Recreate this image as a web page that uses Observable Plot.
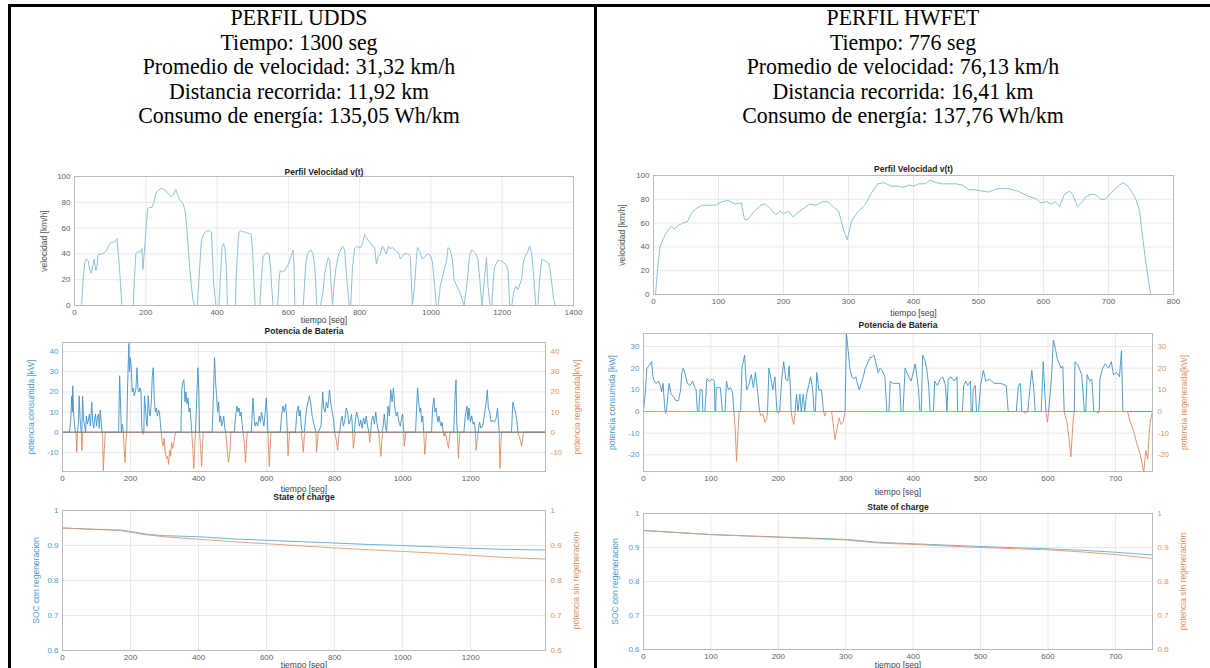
<!DOCTYPE html>
<html>
<head>
<meta charset="utf-8">
<script src="https://cdn.jsdelivr.net/npm/d3@7"></script>
<script src="https://cdn.jsdelivr.net/npm/@observablehq/plot@0.6"></script>
<style>
  body { margin: 0; background: #fff; }
  #page { position: relative; width: 1210px; height: 668px; overflow: hidden; background: #fff; }
  .rule { position: absolute; background: #000; }
  .head { position: absolute; width: 600px; text-align: center; white-space: nowrap;
          font-family: "Liberation Serif", "Times New Roman", serif; font-size: 23.5px; color: #000;
          line-height: 24px; transform: translateY(-50%) scaleX(0.93); transform-origin: 50% 50%; }
  svg { position: absolute; }
</style>
</head>
<body>
<div id="page"></div>
<script>
// ---- Summary text for each drive cycle ----
const uddsHeader = ["PERFIL UDDS", "Tiempo: 1300 seg", "Promedio de velocidad: 31,32 km/h",
                    "Distancia recorrida: 11,92 km", "Consumo de energía: 135,05 Wh/km"];
const hwfetHeader = ["PERFIL HWFET", "Tiempo: 776 seg", "Promedio de velocidad: 76,13 km/h",
                     "Distancia recorrida: 16,41 km", "Consumo de energía: 137,76 Wh/km"];

// ---- UDDS speed profile (s, km/h) ----
const uddsVt = [0,20,24,29,33,38,43,47,51,55,60,63,66,72,77,83,88,94,99,105,110,116,119,126,133,165,168,172,177,183,189,192,197,205,211,217,223,228,234,239,245,250,256,261,267,272,278,284,289,295,301,306,311,315,319,323,328,332,337,345,350,356,362,367,373,379,384,387,390,393,397,405,410,414,418,422,426,429,451,455,459,462,467,473,479,485,490,496,500,503,507,520,524,529,535,541,546,550,553,557,570,574,577,579,584,590,596,602,607,613,616,618,642,646,650,654,658,664,669,674,677,680,690,697,702,708,712,716,719,724,728,734,741,747,752,758,764,771,775,780,786,792,798,803,808,814,819,825,831,836,842,847,852,858,864,870,875,881,886,892,898,903,909,914,920,925,931,937,942,948,954,959,962,968,976,984,992,998,1004,1009,1015,1021,1026,1044,1048,1054,1060,1065,1071,1076,1082,1087,1093,1098,1104,1107,1110,1115,1121,1126,1132,1137,1143,1150,1156,1160,1166,1171,1175,1179,1188,1193,1199,1204,1210,1216,1221,1227,1232,1238,1244,1254,1260,1265,1268,1271,1277,1283,1289,1294,1300,1305,1311,1330,1333,1338,1344,1349,1355,1361,1367,1370];
const uddsV  = [0,0,20,33,36,35,28,25,30,36,27,30,39,40,40,41,42,45,48,49,49,50,52,30,0,0,20,40,42,41,44,28,45,75,76,76,80,87,89,90,91,90,89,87,86,84,86,90,86,82,80,78,72,60,45,30,15,5,0,0,25,50,55,57,58,58,57,40,20,10,0,0,25,45,48,45,30,0,0,30,50,57,58,57,57,56,56,55,40,20,0,0,20,38,40,41,40,30,15,0,0,20,27,27,26,27,30,33,38,43,30,0,0,20,35,40,42,43,40,30,15,0,0,10,25,33,37,35,20,0,15,30,40,43,46,43,20,0,0,30,44,46,45,45,48,55,53,50,48,46,45,32,38,40,46,43,40,46,44,45,43,42,41,36,38,40,40,40,38,0,15,35,45,42,36,38,40,39,34,20,0,0,15,35,45,43,36,20,16,13,10,5,0,10,25,35,40,43,42,40,36,20,0,20,37,15,0,0,20,30,35,35,34,33,32,28,0,0,10,15,12,20,35,38,40,41,46,40,20,0,0,20,36,33,30,20,5,0,0];

// ---- HWFET speed profile (s, km/h) ----
const hwfetVt = [0,3,7,10,15,20,25,28,32,38,45,52,58,65,75,85,95,105,115,125,135,140,145,155,165,172,180,188,195,200,208,215,220,230,240,250,260,268,278,285,292,298,305,315,325,335,345,355,365,375,385,393,400,408,418,425,435,445,455,465,475,485,495,505,515,530,545,560,575,590,595,605,612,618,625,632,640,645,652,660,665,672,680,688,695,705,715,722,728,735,742,748,752,758,762,765];
const hwfetV  = [0,0,25,40,47,52,56,57,55,58,60,61,68,72,75,75,75,78,79,76,77,63,63,70,75,76,72,67,70,68,70,65,68,72,76,75,78,78,73,70,55,46,62,70,75,85,93,94,91,91,90,92,91,93,93,96,94,93,93,93,92,88,88,87,86,89,89,87,83,80,77,78,76,78,74,84,87,84,74,78,82,84,84,80,80,86,91,94,92,87,80,70,50,25,10,0];

// ---- UDDS battery power (s, kW): positive = consumed, negative = regenerated ----
const uddsPt = [0,20,24,27,29,30,33,36,38,40,42,44,47,49,52,55,57,59,62,65,68,70,73,76,79,82,86,89,92,95,97,100,103,106,108,111,114,116,118,120,123,126,165,168,171,173,176,179,181,184,187,189,191,195,197,199,202,205,208,211,214,216,219,222,225,228,231,233,235,237,239,241,244,247,249,252,255,258,261,264,267,270,273,276,279,282,285,288,290,293,296,299,302,306,309,312,315,318,321,324,327,330,333,348,351,354,357,360,363,366,369,372,375,378,380,383,386,389,391,395,398,401,403,406,409,412,414,440,444,447,450,453,456,459,462,465,468,471,474,477,480,484,488,492,495,505,509,513,516,519,522,525,528,531,535,538,541,543,555,560,563,566,570,574,578,582,585,589,592,596,599,602,604,606,608,611,613,640,644,648,652,656,659,661,663,666,668,685,689,693,696,699,702,705,708,711,714,718,722,726,730,734,738,742,745,747,750,752,760,765,768,772,776,780,785,789,793,797,800,805,809,812,815,818,822,826,830,834,838,842,846,850,853,855,858,861,865,869,873,877,881,885,889,893,897,901,903,906,909,913,917,921,924,927,930,933,936,939,942,946,950,953,957,961,965,969,973,977,981,985,989,993,997,1000,1003,1005,1008,1010,1038,1041,1044,1047,1050,1053,1056,1059,1062,1065,1068,1070,1085,1088,1092,1095,1098,1101,1104,1107,1110,1113,1116,1119,1122,1125,1130,1135,1138,1140,1150,1154,1157,1159,1161,1164,1167,1169,1180,1184,1189,1192,1195,1199,1203,1207,1211,1214,1216,1219,1222,1226,1230,1235,1240,1245,1249,1252,1256,1260,1265,1270,1275,1279,1282,1284,1286,1289,1291,1320,1324,1328,1332,1336,1339,1342,1346,1350,1353,1356,1420];
const uddsP  = [0,0,5,18,10,23,8,3,0,-1,-10,0,5,18,6,0,-9,18,6,3,0,8,4,6,9,3,15,5,2,7,9,3,8,9,2,11,5,0,-2,-19,-8,0,0,28,12,0,4,0,-8,-15,-3,0,20,44,30,37,33,20,22,18,20,22,32,21,20,22,20,2,0,-1,0,18,12,5,3,18,10,8,15,28,32,16,10,12,8,11,10,4,0,-5,-7,-3,-10,-13,-12,-16,-9,-12,-5,-8,-6,-2,0,0,22,25,26,15,20,14,17,10,12,5,0,-8,-18,-6,0,18,32,20,0,-8,-17,-5,0,0,20,37,25,18,10,15,5,8,3,5,8,2,0,-8,-15,-10,0,0,8,13,10,12,8,10,4,0,-6,-15,-5,0,0,17,8,3,5,3,8,5,10,6,3,10,17,8,0,-10,-17,-6,0,0,8,13,10,14,8,0,-12,-4,0,0,10,13,8,11,3,-4,-10,-2,6,12,15,18,14,8,5,2,0,-10,-4,0,3,20,12,10,15,12,21,14,10,6,0,-4,-9,-2,0,5,8,3,6,12,10,4,6,9,0,-8,-3,6,10,7,3,6,2,7,4,8,3,0,-5,0,6,8,4,10,5,2,0,-6,-12,-4,2,9,2,0,13,8,21,15,22,12,8,10,5,3,7,9,0,-7,-2,0,0,12,22,15,10,12,5,8,0,-11,-5,0,0,12,17,10,12,8,5,8,5,3,5,0,-2,0,-4,-8,-2,0,0,18,26,5,0,-13,-3,0,0,8,13,6,12,5,8,4,5,0,-9,-4,0,5,2,3,8,14,21,12,10,5,6,5,7,12,4,0,-18,-6,0,0,15,12,10,5,0,-2,-4,-7,-3,0,0];

// ---- HWFET battery power (s, kW) ----
const hwfetPt = [0,3,5,8,12,14,16,19,22,25,27,29,31,32,33,34,36,38,41,44,48,52,55,57,59,62,65,69,73,76,78,80,82,84,87,88,91,94,98,102,105,106,107,108,114,117,121,123,126,129,132,134,136,138,140,142,144,146,150,153,156,160,163,166,169,172,174,177,180,183,184,186,189,192,195,197,198,200,202,205,208,211,214,216,218,219,221,223,225,227,229,232,234,237,239,242,245,248,251,253,255,257,260,264,267,269,271,279,281,284,287,290,293,296,299,301,303,306,309,312,315,318,320,323,326,329,332,336,339,342,345,348,351,354,358,361,364,366,370,376,380,382,385,388,392,397,403,406,408,410,412,414,417,420,423,425,430,432,436,440,444,448,450,452,456,461,465,466,473,475,478,481,485,486,488,489,492,494,497,500,504,508,513,520,530,538,541,553,556,559,561,563,567,570,573,576,579,581,590,593,595,597,599,601,605,608,611,614,617,619,622,624,628,631,634,637,639,640,645,650,654,656,658,662,665,668,672,674,676,677,681,685,690,694,697,702,706,709,711,718,721,726,732,737,742,745,748,750,752,755];
const hwfetP  = [0,10,20,21,23,16,14,13,14,12,9,13,4,0,-1,0,7,13,8,7,5,5,10,18,20,17,13,12,14,11,10,0,0,10,10,0,0,15,14,15,14,0,0,11,11,0,0,14,10,11,9,0,-8,-23,-10,0,0,20,26,10,12,17,11,18,10,0,-2,-1,-5,-3,0,20,15,10,16,5,0,-1,0,15,23,15,14,21,10,0,-4,-6,0,8,0,8,0,8,0,8,12,16,10,0,0,18,10,10,0,-2,0,0,-5,-13,-8,-3,-6,-5,0,36,30,20,16,15,16,12,10,13,16,20,22,25,25,26,22,18,20,19,16,0,0,14,13,13,13,0,0,20,17,14,22,15,10,0,0,26,24,20,12,0,0,14,12,15,16,12,0,15,16,14,16,0,0,12,14,12,14,0,0,10,12,0,0,12,19,14,15,13,13,12,0,0,12,13,0,0,-1,0,10,19,10,0,0,23,10,0,-5,0,15,33,29,24,22,20,21,0,-5,-12,-21,-5,0,23,21,17,0,0,17,14,15,0,0,-1,0,15,20,22,20,23,17,18,16,28,0,0,-4,-8,-15,-20,-28,-18,-22,-10,-4,0];

// ---- State of charge (fraction) with and without regeneration ----
const uddsSocT   = [0,100,170,200,250,300,400,500,600,700,800,900,1000,1100,1200,1300,1420];
const uddsSocCon = [0.950,0.946,0.944,0.940,0.932,0.928,0.925,0.919,0.915,0.911,0.907,0.903,0.900,0.896,0.892,0.889,0.887];
const uddsSocSin = [0.950,0.946,0.943,0.938,0.930,0.925,0.918,0.911,0.905,0.899,0.893,0.888,0.883,0.878,0.872,0.866,0.861];
const hwfetSocT   = [0,100,200,300,350,400,500,600,650,700,755];
const hwfetSocCon = [0.950,0.938,0.931,0.924,0.915,0.911,0.903,0.896,0.892,0.886,0.878];
const hwfetSocSin = [0.950,0.938,0.930,0.922,0.913,0.909,0.900,0.893,0.887,0.879,0.868];

// ---- Axis ticks ----
const uddsVTicks = [0,200,400,600,800,1000,1200,1400];
const uddsTTicks = [0,200,400,600,800,1000,1200];
const hwfetVTicks = [0,100,200,300,400,500,600,700,800];
const hwfetTTicks = [0,100,200,300,400,500,600,700];
const speedTicks = [0,20,40,60,80,100];
const uddsPTicks = [-10,0,10,20,30,40];
const hwfetPTicks = [-20,-10,0,10,20,30];
const socTicks = [0.6,0.7,0.8,0.9,1];

// ---- Styling ----
const FONT = "'Liberation Sans', Arial, Helvetica, sans-serif";
const GRID = "#e9e9e9", FRAME = "#b9b9b9", TICK = "#5e5e5e";
const SPEED = "#8cc2db", PBLUE = "#3f92c7", PORANGE = "#df8a5e";
const SBLUE = "#74b3d8", SORANGE = "#e0956c";
const LBLUE = "#4b9bd0", LORANGE = "#e0915f";

const page = document.getElementById("page");

// table borders
function rule(l, t, w, h) {
  const d = document.createElement("div");
  d.className = "rule";
  Object.assign(d.style, {left: l + "px", top: t + "px", width: w + "px", height: h + "px"});
  page.appendChild(d);
}
rule(8, 4, 1202, 3);
rule(8, 4, 3, 664);
rule(594, 4, 3, 664);

// header lines
const lineY = [17, 42, 66, 91, 115];
function header(lines, cx) {
  lines.forEach((s, i) => {
    const d = document.createElement("div");
    d.className = "head";
    d.textContent = s;
    d.style.left = (cx - 300) + "px";
    d.style.top = lineY[i] + "px";
    page.appendChild(d);
  });
}
header(uddsHeader, 299);
header(hwfetHeader, 903);

const fmt = d => String(d);
const zip = (t, v) => t.map((x, i) => ({t: x, v: v[i]}));

// one MATLAB-style subplot, placed so that its frame spans [x0,x1] x [y0,y1] on the page
function subplot(c) {
  const mL = 70, mR = 60, mT = 24, mB = 32;
  const fw = c.x1 - c.x0, fh = c.y1 - c.y0;
  const marks = [
    Plot.gridX(c.xTicks, {stroke: GRID, strokeOpacity: 1}),
    Plot.gridY(c.yTicks, {stroke: GRID, strokeOpacity: 1}),
    ...c.marks,
    Plot.frame({stroke: FRAME}),
    Plot.axisX(c.xTicks, {tickSize: 0, tickPadding: 4, tickFormat: fmt, label: null, color: TICK, fontSize: 8}),
    Plot.axisY(c.yTicks, {anchor: "left", tickSize: 0, tickPadding: 4, tickFormat: fmt, label: null, color: c.yColor, fontSize: 8}),
    Plot.text([c.title], {text: d => d, frameAnchor: "top", dy: c.titleDy, fontWeight: "bold", fontSize: 8.5, fill: "#1e1e1e"}),
    Plot.text(["tiempo [seg]"], {text: d => d, frameAnchor: "bottom", dy: c.xLabelDy, fontSize: 8.5, fill: "#444"}),
    Plot.text([c.yLabel], {text: d => d, frameAnchor: "left", textAnchor: "middle", lineAnchor: "middle",
      rotate: -90, dx: c.yLabelDx, fontSize: 8.5, fill: c.yLabelColor})
  ];
  if (c.right) {
    marks.push(
      Plot.axisY(c.yTicks, {anchor: "right", tickSize: 0, tickPadding: 5, tickFormat: fmt, label: null, color: c.right.color, fontSize: 8}),
      Plot.text([c.right.label], {text: d => d, frameAnchor: "right", textAnchor: "middle", lineAnchor: "middle",
        rotate: -90, dx: c.right.dx, fontSize: 8.5, fill: c.right.color})
    );
  }
  const svg = Plot.plot({
    width: fw + mL + mR, height: fh + mT + mB,
    marginLeft: mL, marginRight: mR, marginTop: mT, marginBottom: mB,
    x: {domain: c.xDomain}, y: {domain: c.yDomain},
    style: {fontFamily: FONT, background: "transparent", overflow: "visible"},
    marks
  });
  svg.style.left = (c.x0 - mL) + "px";
  svg.style.top = (c.y0 - mT) + "px";
  page.appendChild(svg);
}

function powerMarks(t, p, zeroColor) {
  const d = zip(t, p);
  const m = [
    Plot.line(d, {x: "t", y: r => Math.max(r.v, 0), stroke: PBLUE, strokeWidth: 0.9}),
    Plot.line(d, {x: "t", y: r => Math.min(r.v, 0), stroke: PORANGE, strokeWidth: 0.9})
  ];
  if (zeroColor) m.push(Plot.ruleY([0], {stroke: zeroColor, strokeWidth: 0.9}));
  return m;
}
function socMarks(t, con, sin) {
  return [
    Plot.line(zip(t, con), {x: "t", y: "v", stroke: SBLUE, strokeWidth: 1}),
    Plot.line(zip(t, sin), {x: "t", y: "v", stroke: SORANGE, strokeWidth: 1, strokeOpacity: 0.85})
  ];
}

// ---- UDDS column ----
subplot({x0: 74, x1: 573, y0: 176, y1: 305, xDomain: [0, 1400], xTicks: uddsVTicks,
  yDomain: [0, 100], yTicks: speedTicks, yColor: TICK, title: "Perfil Velocidad v(t)", titleDy: -8,
  xLabelDy: 17, yLabel: "velocidad [km/h]", yLabelColor: "#555", yLabelDx: -30,
  marks: [Plot.line(zip(uddsVt, uddsV), {x: "t", y: "v", stroke: SPEED, strokeWidth: 1})]});

subplot({x0: 62, x1: 545, y0: 342, y1: 471, xDomain: [0, 1420], xTicks: uddsTTicks,
  yDomain: [-19.5, 44.5], yTicks: uddsPTicks, yColor: LBLUE, title: "Potencia de Bateria", titleDy: -15,
  xLabelDy: 20, yLabel: "potencia consumida [kW]", yLabelColor: LBLUE, yLabelDx: -31,
  right: {color: LORANGE, label: "potencia regenerada[kW]", dx: 32},
  marks: powerMarks(uddsPt, uddsP, "#777")});

subplot({x0: 62, x1: 545, y0: 510, y1: 650, xDomain: [0, 1420], xTicks: uddsTTicks,
  yDomain: [0.6, 1], yTicks: socTicks, yColor: LBLUE, title: "State of charge", titleDy: -17,
  xLabelDy: 17, yLabel: "SOC con regeneracion", yLabelColor: LBLUE, yLabelDx: -26,
  right: {color: LORANGE, label: "potencia sin regeneracion", dx: 31},
  marks: socMarks(uddsSocT, uddsSocCon, uddsSocSin)});

// ---- HWFET column ----
subplot({x0: 653, x1: 1173, y0: 175, y1: 294, xDomain: [0, 800], xTicks: hwfetVTicks,
  yDomain: [0, 100], yTicks: speedTicks, yColor: TICK, title: "Perfil Velocidad v(t)", titleDy: -10,
  xLabelDy: 21, yLabel: "velocidad [km/h]", yLabelColor: "#555", yLabelDx: -31,
  marks: [Plot.line(zip(hwfetVt, hwfetV), {x: "t", y: "v", stroke: SPEED, strokeWidth: 1})]});

subplot({x0: 643, x1: 1152, y0: 333, y1: 471, xDomain: [0, 755], xTicks: hwfetTTicks,
  yDomain: [-27.7, 36], yTicks: hwfetPTicks, yColor: LBLUE, title: "Potencia de Bateria", titleDy: -12,
  xLabelDy: 23, yLabel: "potencia consumida [kW]", yLabelColor: LBLUE, yLabelDx: -31,
  right: {color: LORANGE, label: "potencia regenerada[kW]", dx: 32},
  marks: powerMarks(hwfetPt, hwfetP, null)});

subplot({x0: 643, x1: 1152, y0: 513, y1: 649, xDomain: [0, 755], xTicks: hwfetTTicks,
  yDomain: [0.6, 1], yTicks: socTicks, yColor: LBLUE, title: "State of charge", titleDy: -10,
  xLabelDy: 18, yLabel: "SOC con regeneracion", yLabelColor: LBLUE, yLabelDx: -28,
  right: {color: LORANGE, label: "potencia sin regeneracion", dx: 31},
  marks: socMarks(hwfetSocT, hwfetSocCon, hwfetSocSin)});
</script>
</body>
</html>
